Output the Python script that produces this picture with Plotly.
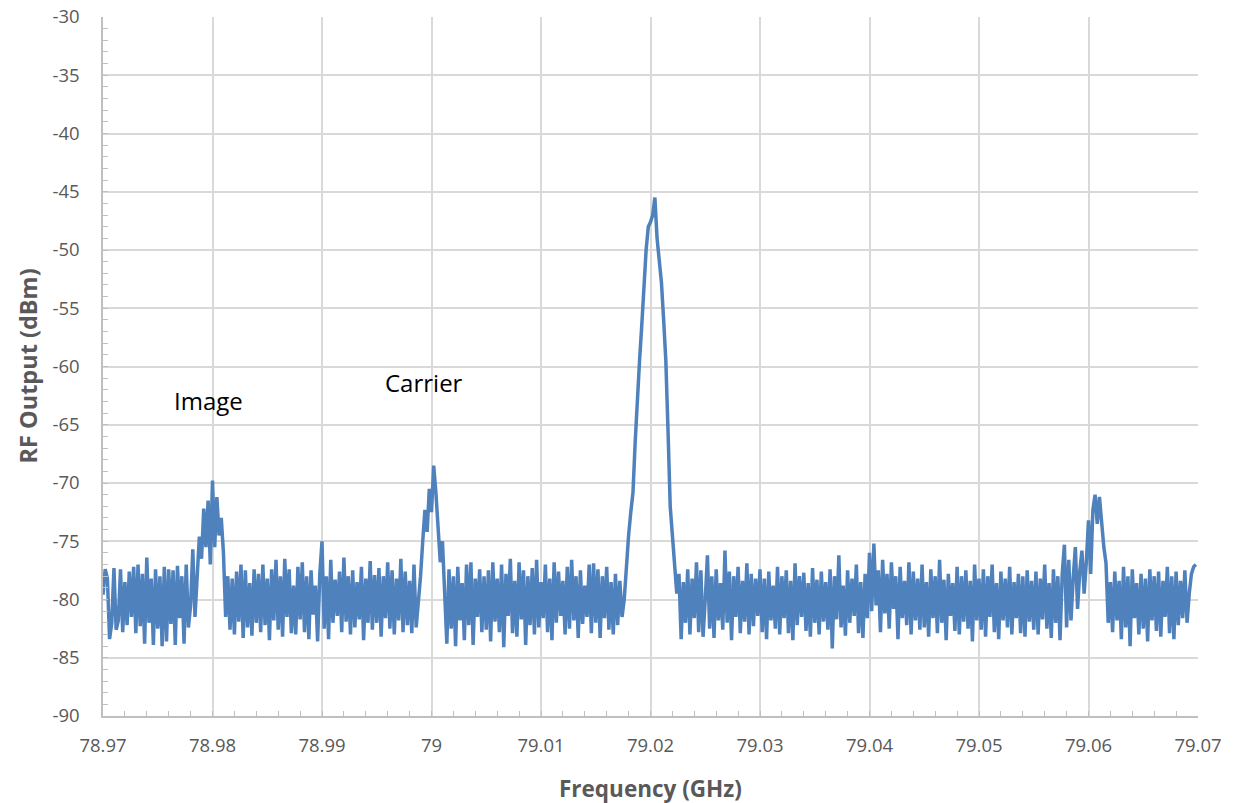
import numpy as np
import plotly.graph_objects as go

# Frequency grid (GHz): spectrum analyser sweep from 78.9700 with 0.0002 GHz step
f_start = 78.97
f_step = 0.0002

# RF output (dBm), 25 points per 0.005 GHz
rf_dbm = [
    # 78.970
    -79.6, -77.4, -78.2, -83.4, -82.0, -77.3, -82.6, -81.8, -77.4, -82.8, -78.5, -82.2, -77.6, -81.5, -77.2, -82.9, -77.0, -82.3, -77.8, -83.8, -76.4, -82.0, -78.2, -83.9, -77.4,
    # 78.975
    -82.5, -78.0, -84.0, -77.2, -83.6, -77.4, -82.1, -77.5, -83.9, -77.1, -81.6, -78.0, -83.8, -77.0, -82.4, -80.5, -75.7, -81.5, -77.5, -74.6, -76.5, -72.2, -75.5, -71.5, -77.0,
    # 78.980
    -69.8, -75.5, -71.2, -74.5, -73.0, -76.0, -81.5, -78.0, -82.6, -78.2, -83.0, -77.6, -81.9, -77.0, -83.3, -77.5, -82.4, -78.6, -83.1, -77.4, -82.0, -77.8, -82.8, -77.0, -82.2,
    # 78.985
    -78.2, -83.5, -77.4, -81.8, -76.6, -82.6, -78.0, -83.2, -76.5, -81.5, -77.4, -82.9, -78.8, -83.0, -77.2, -81.7, -76.8, -82.8, -78.0, -83.4, -77.5, -81.3, -78.8, -83.6, -77.8,
    # 78.990
    -75.0, -82.5, -78.0, -83.4, -76.6, -82.0, -78.3, -81.4, -77.6, -82.8, -76.4, -81.9, -78.0, -83.0, -77.5, -82.4, -78.5, -81.7, -77.2, -83.5, -78.2, -82.0, -76.7, -82.6, -77.9,
    # 78.995
    -82.0, -77.3, -83.2, -78.0, -81.6, -76.8, -82.5, -77.5, -83.0, -78.2, -81.8, -76.5, -82.8, -77.6, -82.2, -78.4, -82.9, -77.0, -82.4, -80.5, -78.0, -75.0, -72.3, -74.2, -70.5,
    # 79.000
    -72.5, -68.5, -70.8, -73.5, -76.8, -75.0, -79.5, -83.8, -77.4, -82.5, -78.0, -84.0, -77.2, -81.8, -78.6, -83.5, -77.0, -82.2, -76.8, -83.9, -78.2, -81.5, -77.4, -82.8, -78.0,
    # 79.005
    -82.6, -77.5, -83.6, -76.8, -81.9, -78.2, -82.8, -77.0, -84.1, -77.8, -81.4, -76.5, -82.9, -78.4, -83.2, -76.8, -81.7, -77.5, -83.9, -78.0, -82.2, -77.3, -83.0, -76.6, -82.4,
    # 79.010
    -78.5, -81.6, -77.0, -82.8, -78.2, -83.5, -76.8, -82.0, -77.6, -81.4, -78.4, -83.0, -77.2, -82.5, -76.6, -81.8, -78.0, -83.3, -77.5, -82.1, -78.8, -81.5, -77.0, -82.9, -76.9,
    # 79.015
    -82.0, -77.4, -83.3, -78.0, -81.6, -77.2, -82.6, -78.5, -83.0, -77.8, -82.2, -78.4, -81.5, -80.0, -76.8, -74.5, -72.5, -70.8, -66.5, -62.5, -59.5, -56.5, -52.5, -50.0, -48.0,
    # 79.020
    -47.6, -47.0, -45.5, -49.0, -51.0, -52.8, -56.0, -59.5, -65.5, -72.0, -74.5, -77.0, -79.5, -77.8, -83.4, -78.5, -82.0, -77.4, -83.0, -78.2, -81.6, -76.8, -82.8, -77.5, -83.2,
    # 79.025
    -80.0, -76.2, -82.5, -78.0, -83.3, -77.4, -81.8, -78.6, -82.6, -75.8, -82.0, -77.6, -83.5, -78.0, -81.5, -77.2, -82.9, -78.4, -81.9, -76.9, -83.0, -77.8, -82.3, -78.2, -81.4,
    # 79.030
    -77.4, -82.8, -78.2, -83.4, -77.6, -81.8, -78.8, -82.5, -77.2, -83.0, -78.0, -81.6, -77.5, -82.9, -78.4, -83.5, -76.9, -82.2, -78.0, -81.5, -77.7, -82.7, -78.6, -83.2, -77.3,
    # 79.035
    -82.0, -78.3, -83.0, -77.6, -81.9, -78.5, -82.6, -77.4, -84.2, -78.0, -81.7, -76.2, -82.4, -78.8, -83.1, -77.5, -82.0, -78.2, -81.4, -77.0, -82.9, -78.5, -83.3, -77.8, -81.6,
    # 79.040
    -76.0, -81.0, -75.2, -80.5, -77.5, -82.8, -76.6, -81.2, -77.8, -82.5, -76.8, -80.8, -78.0, -83.4, -77.2, -81.6, -78.4, -82.2, -76.8, -83.0, -77.6, -81.8, -78.2, -82.6, -77.0,
    # 79.045
    -82.4, -78.5, -83.2, -77.4, -81.6, -78.0, -82.9, -76.6, -82.0, -78.3, -83.5, -77.8, -81.4, -78.6, -82.7, -77.2, -83.0, -78.0, -81.9, -77.5, -82.5, -78.4, -83.6, -77.0, -81.8,
    # 79.050
    -78.2, -82.6, -77.4, -83.2, -78.0, -81.5, -77.0, -82.8, -78.6, -83.4, -77.6, -81.8, -78.2, -82.4, -77.2, -83.0, -78.5, -81.6, -77.8, -82.9, -78.0, -83.2, -77.5, -81.9, -78.4,
    # 79.055
    -82.6, -77.6, -83.0, -78.2, -81.7, -77.0, -82.5, -78.6, -83.3, -77.4, -82.0, -78.0, -83.5, -77.8, -75.3, -82.4, -76.6, -81.8, -78.2, -75.5, -80.8, -77.6, -75.8, -79.5, -76.8,
    # 79.060
    -73.2, -77.8, -72.3, -71.0, -73.5, -71.2, -73.5, -75.5, -76.9, -82.0, -78.5, -82.8, -77.6, -81.8, -78.4, -83.4, -77.2, -82.4, -78.0, -84.0, -77.4, -81.6, -78.6, -83.0, -77.8,
    # 79.065
    -82.5, -78.2, -83.6, -77.4, -81.8, -78.0, -82.7, -77.6, -83.2, -78.4, -81.5, -77.2, -82.9, -78.0, -83.4, -77.6, -82.2, -78.4, -81.6, -77.5, -82.0, -79.5, -77.8, -77.2, -77.0,
]

freq_ghz = f_start + f_step * np.arange(len(rf_dbm))

x_ticks = [78.97, 78.98, 78.99, 79.0, 79.01, 79.02, 79.03, 79.04, 79.05, 79.06, 79.07]
x_tick_labels = ["78.97", "78.98", "78.99", "79", "79.01", "79.02", "79.03", "79.04", "79.05", "79.06", "79.07"]
y_ticks = [-90, -85, -80, -75, -70, -65, -60, -55, -50, -45, -40, -35, -30]
y_tick_labels = ["-90", "-85", "-80", "-75", "-70", "-65", "-60", "-55", "-50", "-45", "-40", "-35", "-30"]

label_texts = ["Image", "Carrier"]
label_x = [78.9796, 78.9993]
label_y = [-62.95, -61.35]

FONT = "Open Sans"
GRID = "#D9D9D9"
AXIS = "#BFBFBF"
TXT = "#595959"

fig = go.Figure()
fig.add_trace(go.Scatter(
    x=freq_ghz, y=rf_dbm, mode="lines",
    line=dict(color="#4F81BD", width=3.5),
    showlegend=False, hoverinfo="skip",
))

for t, xx, yy in zip(label_texts, label_x, label_y):
    fig.add_annotation(x=xx, y=yy, text=t, showarrow=False,
                       font=dict(family=FONT, size=24, color="#000000"))

fig.add_annotation(xref="paper", yref="paper", x=0.5, y=-0.1035, yanchor="middle",
                   text="<b>Frequency (GHz)</b>", showarrow=False,
                   font=dict(family=FONT, size=22.5, color=TXT))
fig.add_annotation(xref="paper", yref="paper", x=-0.0694, y=0.5, xanchor="center",
                   yanchor="middle",
                   text="<b>RF Output (dBm)</b>", showarrow=False, textangle=-90,
                   font=dict(family=FONT, size=23.5, color=TXT))

fig.update_layout(
    width=1234, height=803,
    margin=dict(l=103, r=36, t=17, b=87, autoexpand=False),
    paper_bgcolor="white", plot_bgcolor="white",
    font=dict(family=FONT, size=18, color=TXT),
)
fig.update_xaxes(
    range=[78.97, 79.07], tickvals=x_ticks, ticktext=x_tick_labels,
    showgrid=True, gridcolor=GRID, gridwidth=1.5,
    showline=True, linecolor=AXIS, linewidth=1.5,
    ticks="inside", ticklen=5, tickcolor=AXIS,
    minor=dict(dtick=0.002, tick0=78.97, ticks="inside", ticklen=5, tickcolor=AXIS, showgrid=False),
    ticklabelstandoff=12, zeroline=False, automargin=False,
    tickfont=dict(family=FONT, size=18.5, color=TXT),
)
fig.update_yaxes(
    range=[-90, -30], tickvals=y_ticks, ticktext=y_tick_labels,
    showgrid=True, gridcolor=GRID, gridwidth=1.5,
    showline=True, linecolor=AXIS, linewidth=1.5,
    ticks="inside", ticklen=5, tickcolor=AXIS,
    minor=dict(dtick=1, tick0=-90, ticks="inside", ticklen=5, tickcolor=AXIS, showgrid=False),
    ticklabelstandoff=18, zeroline=False, automargin=False,
    tickfont=dict(family=FONT, size=18.5, color=TXT),
)

post = ("document.body.style.margin='0';"
        "var d=document.getElementById('{plot_id}');"
        "d.style.position='absolute';d.style.left='0px';d.style.top='0px';")
fig.write_html("out.html", post_script=post, config={"displayModeBar": False})
